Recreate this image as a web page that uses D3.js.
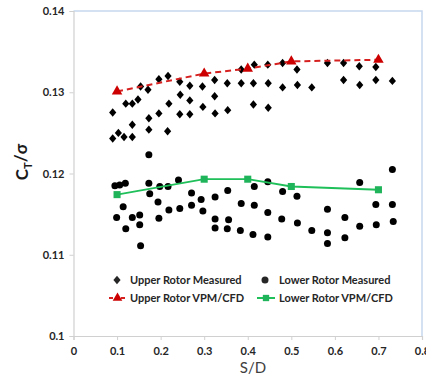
<!DOCTYPE html>
<html>
<head>
<meta charset="utf-8">
<script src="https://cdn.jsdelivr.net/npm/d3@7"></script>
<style>
  html, body { margin: 0; padding: 0; background: #fff; }
  svg { display: block; }
</style>
</head>
<body>
<div id="chart"></div>
<script>
const upperX = [0.090,0.090,0.103,0.116,0.135,0.135,0.120,0.135,0.148,0.154,0.171,0.173,0.173,0.196,0.196,0.217,0.219,0.216,
  0.244,0.245,0.267,0.267,0.244,0.267,0.296,0.297,0.324,0.324,0.325,0.353,0.354,0.385,0.385,0.413,0.413,0.415,
  0.446,0.480,0.513,0.583,0.620,0.656,0.694,0.447,0.480,0.514,0.547,0.620,0.657,0.694,0.732,0.447];
const upperY = [0.1275,0.1243,0.1250,0.1245,0.1245,0.1260,0.1286,0.1286,0.1291,0.1307,0.1303,0.1268,0.1254,0.1274,0.1316,0.1320,0.1286,0.1252,
  0.1313,0.1297,0.1308,0.1290,0.1273,0.1273,0.1307,0.1282,0.1315,0.1295,0.1274,0.1311,0.1278,0.1311,0.1328,0.1311,0.1285,0.1334,
  0.1334,0.1336,0.1328,0.1336,0.1336,0.1332,0.1331,0.1311,0.1306,0.1309,0.1306,0.1315,0.1309,0.1315,0.1314,0.1281];

const lowerX = [0.173,0.095,0.106,0.119,0.173,0.198,0.217,0.241,0.175,0.271,0.293,0.354,0.415,0.114,0.194,0.325,0.385,0.415,
  0.099,0.135,0.152,0.152,0.120,0.196,0.219,0.244,0.271,0.297,0.325,0.356,0.325,0.353,0.383,0.412,0.154,
  0.732,0.657,0.446,0.480,0.513,0.446,0.583,0.694,0.732,0.478,0.514,0.547,0.623,0.657,0.695,0.734,0.446,0.583,0.583,0.623];
const lowerY = [0.1223,0.1185,0.1186,0.1188,0.1188,0.1184,0.1184,0.1192,0.1175,0.1176,0.1168,0.1179,0.1184,0.1159,0.1165,0.1171,0.1163,0.1161,
  0.1146,0.1146,0.1149,0.1137,0.1132,0.1145,0.1155,0.1157,0.1161,0.1154,0.1144,0.1143,0.1133,0.1132,0.1130,0.1125,0.1111,
  0.1205,0.1189,0.1190,0.1178,0.1172,0.1152,0.1156,0.1162,0.1162,0.1144,0.1139,0.1130,0.1146,0.1135,0.1137,0.1141,0.1122,0.1127,0.1114,0.1121];

// VPM/CFD predictions
const vpmSD = [0.1, 0.3, 0.4, 0.5, 0.7];
const vpmUpper = [0.1301, 0.1323, 0.1329, 0.1338, 0.1340];
const vpmLower = [0.1174, 0.1193, 0.1193, 0.1184, 0.1180];

const xTicks = [0, 0.1, 0.2, 0.3, 0.4, 0.5, 0.6, 0.7, 0.8];
const yTicks = [0.1, 0.11, 0.12, 0.13, 0.14];

const W = 426, H = 376;
const plotL = 73.5, plotR = 422, plotT = 11, plotB = 336;
const font = 'Lato, "Open Sans", sans-serif';

const svg = d3.select('#chart').append('svg').attr('width', W).attr('height', H);

const x = d3.scaleLinear().domain([0, 0.8]).range([plotL, plotR]);
const y = d3.scaleLinear().domain([0.1, 0.14]).range([plotB, plotT]);

// plot frame (light blue top/right)
svg.append('path')
  .attr('d', `M${plotL},${plotT}H${plotR}V${plotB}`)
  .attr('fill', 'none').attr('stroke', '#c6d7ee').attr('stroke-width', 1.5);

const xAxis = svg.append('g')
  .attr('transform', `translate(0,${plotB})`)
  .call(d3.axisBottom(x).tickValues(xTicks).tickSize(4).tickPadding(7).tickFormat(d => d === 0 ? '0' : d3.format('.1f')(d)));
const yAxis = svg.append('g')
  .attr('transform', `translate(${plotL},0)`)
  .call(d3.axisLeft(y).tickValues(yTicks).tickSize(4).tickPadding(5).tickFormat(d => d === 0.1 ? '0.1' : d3.format('.2f')(d)));

[xAxis, yAxis].forEach(a => {
  a.select('.domain').attr('stroke', '#d0d0d0').attr('stroke-width', 1.2);
  a.selectAll('.tick line').attr('stroke', '#d0d0d0');
  a.selectAll('.tick text').attr('font-family', font).attr('font-weight', 700)
    .attr('font-size', 11).attr('fill', '#262626');
});

// diamond marker
const diamond = {
  draw(ctx, size) {
    const w = 3.6, h = 4.2;
    ctx.moveTo(0, -h); ctx.lineTo(w, 0); ctx.lineTo(0, h); ctx.lineTo(-w, 0); ctx.closePath();
  }
};

svg.append('g').selectAll('path')
  .data(d3.zip(upperX, upperY))
  .join('path')
  .attr('transform', d => `translate(${x(d[0])},${y(d[1])})`)
  .attr('d', d3.symbol().type(diamond)())
  .attr('fill', '#000');

svg.append('g').selectAll('circle')
  .data(d3.zip(lowerX, lowerY))
  .join('circle')
  .attr('cx', d => x(d[0])).attr('cy', d => y(d[1])).attr('r', 3.5)
  .attr('fill', '#000');

const line = d3.line().x(d => x(d[0])).y(d => y(d[1]));

const upperPts = d3.zip(vpmSD, vpmUpper);
svg.append('path').attr('d', line(upperPts))
  .attr('fill', 'none').attr('stroke', '#d62020').attr('stroke-width', 2)
  .attr('stroke-dasharray', '6,4');
svg.append('g').selectAll('path').data(upperPts).join('path')
  .attr('transform', d => `translate(${x(d[0])},${y(d[1])})`)
  .attr('d', d3.symbol().type(d3.symbolTriangle).size(48)())
  .attr('fill', '#cc0000');

const lowerPts = d3.zip(vpmSD, vpmLower);
svg.append('path').attr('d', line(lowerPts))
  .attr('fill', 'none').attr('stroke', '#1fbf5a').attr('stroke-width', 1.8);
svg.append('g').selectAll('path').data(lowerPts).join('path')
  .attr('transform', d => `translate(${x(d[0])},${y(d[1])})`)
  .attr('d', d3.symbol().type(d3.symbolSquare).size(50)())
  .attr('fill', '#1fb35a');

// legend
const legend = svg.append('g').attr('font-family', font).attr('font-weight', 700)
  .attr('font-size', 11).attr('fill', '#262626');
const r1 = 280, r2 = 298;
legend.append('path').attr('transform', `translate(117,${r1})`).attr('d', d3.symbol().type(diamond)());
legend.append('text').attr('x', 130).attr('y', r1).attr('dy', '0.35em').text('Upper Rotor Measured');
legend.append('circle').attr('cx', 265).attr('cy', r1).attr('r', 3.5);
legend.append('text').attr('x', 279).attr('y', r1).attr('dy', '0.35em').text('Lower Rotor Measured');
legend.append('line').attr('x1', 109).attr('x2', 126).attr('y1', r2).attr('y2', r2)
  .attr('stroke', '#d62020').attr('stroke-width', 2).attr('stroke-dasharray', '4,2');
legend.append('path').attr('transform', `translate(117.5,${r2})`)
  .attr('d', d3.symbol().type(d3.symbolTriangle).size(40)()).attr('fill', '#cc0000');
legend.append('text').attr('x', 130).attr('y', r2).attr('dy', '0.35em').text('Upper Rotor VPM/CFD');
legend.append('line').attr('x1', 257).attr('x2', 275).attr('y1', r2).attr('y2', r2)
  .attr('stroke', '#1fbf5a').attr('stroke-width', 2);
legend.append('path').attr('transform', `translate(266,${r2})`)
  .attr('d', d3.symbol().type(d3.symbolSquare).size(40)()).attr('fill', '#1fb35a');
legend.append('text').attr('x', 279).attr('y', r2).attr('dy', '0.35em').text('Lower Rotor VPM/CFD');

// axis titles
svg.append('text')
  .attr('x', 253).attr('y', 368).attr('dy', '0.35em')
  .attr('text-anchor', 'middle').attr('font-family', font).attr('font-size', 15)
  .attr('fill', '#404040').text('S/D');

const yt = svg.append('text')
  .attr('transform', 'translate(22,162) rotate(-90)')
  .attr('text-anchor', 'middle').attr('dy', '0.35em')
  .attr('font-family', font).attr('font-weight', 700).attr('font-size', 17).attr('fill', '#1a1a1a');
yt.append('tspan').text('C');
yt.append('tspan').attr('font-size', 11).attr('dy', '0.35em').text('T');
yt.append('tspan').attr('dy', '-0.3em').text('/σ');
</script>
</body>
</html>
